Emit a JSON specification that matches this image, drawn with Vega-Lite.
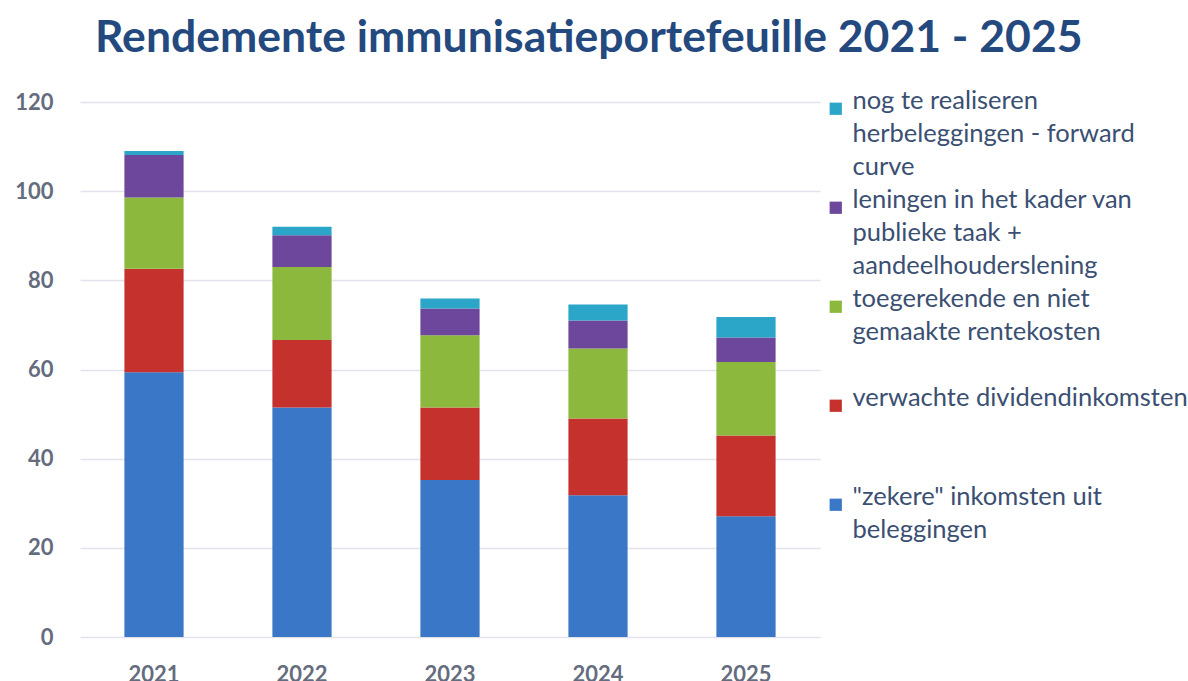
{
  "$schema": "https://vega.github.io/schema/vega-lite/v6.json",
  "width": 740,
  "height": 535,
  "autosize": {"type": "none"},
  "padding": {"left": 80, "top": 102, "right": 368, "bottom": 44},
  "background": "white",
  "title": {
    "text": "Rendemente immunisatieportefeuille 2021 - 2025",
    "anchor": "start",
    "frame": "group",
    "dx": 15,
    "offset": -14,
    "baseline": "bottom",
    "font": "Lato",
    "fontSize": 44.5,
    "fontWeight": "bold",
    "color": "#23497E"
  },
  "data": {
    "values": [
      {"jaar": "2021", "categorie": "\"zekere\" inkomsten uit beleggingen", "volgorde": 1, "waarde": 59.4},
      {"jaar": "2021", "categorie": "verwachte dividendinkomsten", "volgorde": 2, "waarde": 23.2},
      {"jaar": "2021", "categorie": "toegerekende en niet gemaakte rentekosten", "volgorde": 3, "waarde": 16.0},
      {"jaar": "2021", "categorie": "leningen in het kader van publieke taak + aandeelhouderslening", "volgorde": 4, "waarde": 9.5},
      {"jaar": "2021", "categorie": "nog te realiseren herbeleggingen - forward curve", "volgorde": 5, "waarde": 0.9},
      {"jaar": "2022", "categorie": "\"zekere\" inkomsten uit beleggingen", "volgorde": 1, "waarde": 51.5},
      {"jaar": "2022", "categorie": "verwachte dividendinkomsten", "volgorde": 2, "waarde": 15.1},
      {"jaar": "2022", "categorie": "toegerekende en niet gemaakte rentekosten", "volgorde": 3, "waarde": 16.4},
      {"jaar": "2022", "categorie": "leningen in het kader van publieke taak + aandeelhouderslening", "volgorde": 4, "waarde": 7.1},
      {"jaar": "2022", "categorie": "nog te realiseren herbeleggingen - forward curve", "volgorde": 5, "waarde": 1.9},
      {"jaar": "2023", "categorie": "\"zekere\" inkomsten uit beleggingen", "volgorde": 1, "waarde": 35.2},
      {"jaar": "2023", "categorie": "verwachte dividendinkomsten", "volgorde": 2, "waarde": 16.3},
      {"jaar": "2023", "categorie": "toegerekende en niet gemaakte rentekosten", "volgorde": 3, "waarde": 16.2},
      {"jaar": "2023", "categorie": "leningen in het kader van publieke taak + aandeelhouderslening", "volgorde": 4, "waarde": 6.0},
      {"jaar": "2023", "categorie": "nog te realiseren herbeleggingen - forward curve", "volgorde": 5, "waarde": 2.2},
      {"jaar": "2024", "categorie": "\"zekere\" inkomsten uit beleggingen", "volgorde": 1, "waarde": 31.8},
      {"jaar": "2024", "categorie": "verwachte dividendinkomsten", "volgorde": 2, "waarde": 17.2},
      {"jaar": "2024", "categorie": "toegerekende en niet gemaakte rentekosten", "volgorde": 3, "waarde": 15.7},
      {"jaar": "2024", "categorie": "leningen in het kader van publieke taak + aandeelhouderslening", "volgorde": 4, "waarde": 6.3},
      {"jaar": "2024", "categorie": "nog te realiseren herbeleggingen - forward curve", "volgorde": 5, "waarde": 3.6},
      {"jaar": "2025", "categorie": "\"zekere\" inkomsten uit beleggingen", "volgorde": 1, "waarde": 27.1},
      {"jaar": "2025", "categorie": "verwachte dividendinkomsten", "volgorde": 2, "waarde": 18.1},
      {"jaar": "2025", "categorie": "toegerekende en niet gemaakte rentekosten", "volgorde": 3, "waarde": 16.5},
      {"jaar": "2025", "categorie": "leningen in het kader van publieke taak + aandeelhouderslening", "volgorde": 4, "waarde": 5.5},
      {"jaar": "2025", "categorie": "nog te realiseren herbeleggingen - forward curve", "volgorde": 5, "waarde": 4.6}
    ]
  },
  "mark": {"type": "bar"},
  "encoding": {
    "x": {
      "field": "jaar",
      "type": "nominal",
      "scale": {"paddingInner": 0.6, "paddingOuter": 0.3},
      "axis": {
        "title": null,
        "labelAngle": 0,
        "ticks": false,
        "domain": false,
        "labelPadding": 27,
        "labelFont": "Lato",
        "labelFontSize": 22,
        "labelFontWeight": "bold",
        "labelColor": "#646C7E"
      }
    },
    "y": {
      "field": "waarde",
      "type": "quantitative",
      "stack": "zero",
      "scale": {"domain": [0, 120], "nice": false},
      "axis": {
        "title": null,
        "values": [0, 20, 40, 60, 80, 100, 120],
        "ticks": false,
        "domain": false,
        "labelPadding": 27,
        "labelFont": "Lato",
        "labelFontSize": 22,
        "labelFontWeight": "bold",
        "labelColor": "#646C7E",
        "gridColor": "#E2E2EA",
        "gridWidth": 1.5
      }
    },
    "color": {
      "field": "categorie",
      "type": "nominal",
      "scale": {
        "domain": [
          "nog te realiseren herbeleggingen - forward curve",
          "leningen in het kader van publieke taak + aandeelhouderslening",
          "toegerekende en niet gemaakte rentekosten",
          "verwachte dividendinkomsten",
          "\"zekere\" inkomsten uit beleggingen"
        ],
        "range": ["#2BA5C8", "#6C479C", "#8CB93D", "#C5322E", "#3A77C6"]
      },
      "legend": {
        "title": null,
        "orient": "none",
        "legendX": 743,
        "legendY": -6,
        "symbolType": "square",
        "symbolSize": 150,
        "symbolStrokeWidth": 0,
        "labelOffset": 4,
        "labelBaseline": "alphabetic",
        "labelFont": "Lato",
        "labelFontSize": 25.5,
        "labelColor": "#3A4F72",
        "labelLimit": 400,
        "rowPadding": 6,
        "labelExpr": "datum.label == 'nog te realiseren herbeleggingen - forward curve' ? ['nog te realiseren', 'herbeleggingen - forward', 'curve'] : datum.label == 'leningen in het kader van publieke taak + aandeelhouderslening' ? ['leningen in het kader van', 'publieke taak +', 'aandeelhouderslening'] : datum.label == 'toegerekende en niet gemaakte rentekosten' ? ['toegerekende en niet', 'gemaakte rentekosten', ' '] : datum.label == 'verwachte dividendinkomsten' ? ['verwachte dividendinkomsten', ' ', ' '] : ['\"zekere\" inkomsten uit', 'beleggingen', ' ']"
      }
    },
    "order": {"field": "volgorde", "type": "quantitative", "sort": "ascending"}
  },
  "config": {
    "view": {"stroke": null},
    "style": {"guide-label": {"lineHeight": 33}}
  }
}
